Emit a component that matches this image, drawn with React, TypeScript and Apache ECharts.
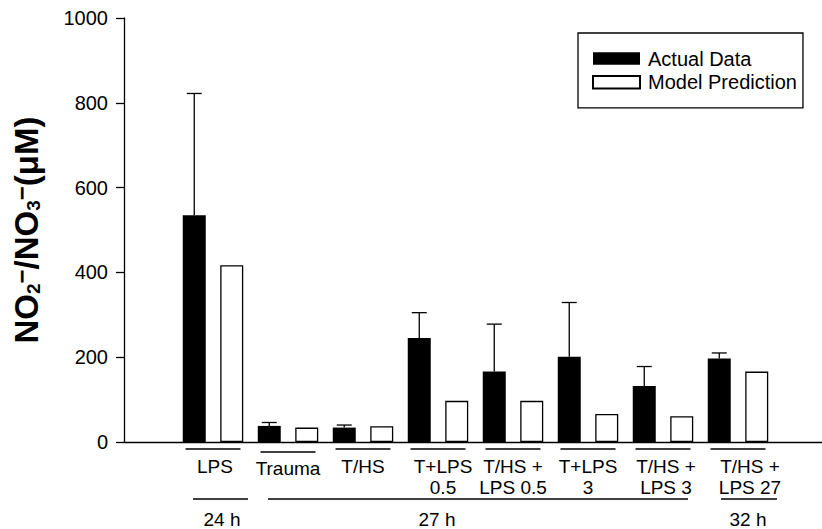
import React, { useEffect, useRef } from "react";
import * as echarts from "echarts";

const categories = [
  "LPS",
  "Trauma",
  "T/HS",
  "T+LPS\n0.5",
  "T/HS +\nLPS 0.5",
  "T+LPS\n3",
  "T/HS +\nLPS 3",
  "T/HS +\nLPS 27",
];
const actualData = [535, 38, 34, 245, 166, 201, 132, 197];
const actualErr = [287, 8, 6, 60, 112, 128, 46, 13];
const modelPrediction = [417, 34, 37, 97, 97, 66, 61, 166];
const yTicks = [0, 200, 400, 600, 800, 1000];

const spanLabels = ["24 h", "27 h", "32 h"];
const spanStart = [0, 1, 7];
const spanEnd = [0, 6, 7];

// layout constants (pixels)
const FONT = "'Liberation Sans', Arial, Helvetica, sans-serif";
const BAR_W = 23;
const BLACK_OFFSET = -18.75;
const CAP_HALF = 7.5;
const UNDERLINE_HALF = 27.5;
const UNDERLINE_DY = [7, 10, 7, 7, 7, 7, 7, 7];
const LABEL_PAD_LEFT = [4, 0, 0, 10, 0, 0, 6, 24];
const LABEL_PAD_TOP = [0, 2, 0, 0, 0, 0, 0, 0];
const SPAN_PAD_L = [-20, -20, -17];
const SPAN_PAD_R = [35, 25, 39];
const SPAN_LABEL_X = [9, -1, 10]; // relative to label category center
const SPAN_LABEL_CAT = [0, 3, 7];

export default function App() {
  const ref = useRef<HTMLDivElement>(null);
  useEffect(() => {
    if (!ref.current) return;
    const chart = echarts.init(ref.current, undefined, { renderer: "svg" });
    const axisColor = "#000";
    const option: any = {
      animation: false,
      backgroundColor: "#fff",
      grid: [
        { left: 124, right: 0, top: 18, bottom: 87, outerBoundsMode: "none" },
        { left: 175.5, right: 46.5, top: 18, bottom: 87, outerBoundsMode: "none" },
      ],
      legend: {
        orient: "vertical",
        left: 578,
        top: 33,
        itemWidth: 47,
        itemHeight: 12.5,
        itemGap: 3.8,
        padding: [15.5, 6, 15.5, 14],
        borderColor: "#000",
        borderWidth: 1.3,
        borderRadius: 0,
        icon: "rect",
        selectedMode: false,
        data: ["Actual Data", "Model Prediction"],
        textStyle: {
          color: "#000",
          fontSize: 20,
          lineHeight: 20,
          fontFamily: FONT,
          padding: [0, 0, 0, 3],
        },
      },
      xAxis: [
        {
          gridIndex: 0,
          type: "value",
          min: 0,
          max: 1,
          axisLine: { show: true, lineStyle: { color: axisColor, width: 1.3 } },
          axisTick: { show: false },
          axisLabel: { show: false },
          splitLine: { show: false },
        },
        {
          gridIndex: 1,
          type: "category",
          data: categories.map((c, i) => ({
            value: c,
            textStyle: { padding: [LABEL_PAD_TOP[i], 0, 0, LABEL_PAD_LEFT[i]] },
          })),
          axisLine: { show: false },
          axisTick: { show: false },
          splitLine: { show: false },
          axisLabel: {
            interval: 0,
            margin: 13.5,
            color: "#000",
            fontSize: 19,
            lineHeight: 21,
            fontFamily: FONT,
          },
        },
      ],
      yAxis: [
        {
          gridIndex: 0,
          type: "value",
          min: yTicks[0],
          max: yTicks[yTicks.length - 1],
          interval: 200,
          axisLine: { show: true, lineStyle: { color: axisColor, width: 1.3 } },
          axisTick: { show: true, inside: false, length: 8, lineStyle: { color: axisColor, width: 1.3 } },
          axisLabel: {
            margin: 16,
            color: "#000",
            fontSize: 20,
            fontFamily: FONT,
            formatter: (v: number) => String(v),
          },
          splitLine: { show: false },
          name: "{m|NO}{sub|2}{sup|−}{m|/NO}{sub|3}{sup|−}{m|(μM)}",
          nameLocation: "middle",
          nameRotate: 90,
          nameGap: 81,
          nameTextStyle: {
            color: "#000",
            fontFamily: FONT,
            rich: {
              m: { fontSize: 33, fontWeight: "bold", lineHeight: 34, fontFamily: FONT, color: "#000" },
              sub: {
                fontSize: 19,
                fontWeight: "bold",
                lineHeight: 23,
                verticalAlign: "bottom",
                fontFamily: FONT,
                color: "#000",
              },
              sup: {
                fontSize: 24,
                fontWeight: "bold",
                lineHeight: 8,
                verticalAlign: "top",
                fontFamily: FONT,
                color: "#000",
              },
            },
          },
        },
        {
          gridIndex: 1,
          type: "value",
          min: yTicks[0],
          max: yTicks[yTicks.length - 1],
          show: false,
          splitLine: { show: false },
        },
      ],
      series: [
        {
          name: "Actual Data",
          type: "bar",
          xAxisIndex: 1,
          yAxisIndex: 1,
          barWidth: BAR_W,
          barGap: "63%",
          data: actualData,
          itemStyle: { color: "#000", borderColor: "#000", borderWidth: 0 },
        },
        {
          name: "Model Prediction",
          type: "bar",
          xAxisIndex: 1,
          yAxisIndex: 1,
          barWidth: BAR_W,
          barGap: "63%",
          data: modelPrediction,
          itemStyle: { color: "#fff", borderColor: "#000", borderWidth: 1.3 },
        },
        {
          name: "err",
          type: "custom",
          xAxisIndex: 1,
          yAxisIndex: 1,
          z: 5,
          data: actualData.map((v, i) => [i, v, v + actualErr[i]]),
          encode: { x: 0, y: [1, 2] },
          renderItem: (params: any, api: any) => {
            const i = api.value(0);
            const lo = api.coord([i, api.value(1)]);
            const hi = api.coord([i, api.value(2)]);
            const x = lo[0] + BLACK_OFFSET;
            return {
              type: "group",
              children: [
                {
                  type: "line",
                  shape: { x1: x, y1: lo[1], x2: x, y2: hi[1] },
                  style: { stroke: "#000", lineWidth: 1.3 },
                },
                {
                  type: "line",
                  shape: { x1: x - CAP_HALF, y1: hi[1], x2: x + CAP_HALF, y2: hi[1] },
                  style: { stroke: "#000", lineWidth: 1.3 },
                },
              ],
            };
          },
        },
        {
          name: "underlines",
          type: "custom",
          xAxisIndex: 1,
          yAxisIndex: 1,
          silent: true,
          data: categories.map((c, i) => [i, 0]),
          encode: { x: 0, y: 1 },
          renderItem: (params: any, api: any) => {
            const i = api.value(0);
            const p = api.coord([i, 0]);
            const y = p[1] + UNDERLINE_DY[i];
            return {
              type: "line",
              shape: { x1: p[0] - UNDERLINE_HALF, y1: y, x2: p[0] + UNDERLINE_HALF, y2: y },
              style: { stroke: "#000", lineWidth: 1.3 },
            };
          },
        },
        {
          name: "spans",
          type: "custom",
          xAxisIndex: 1,
          yAxisIndex: 1,
          silent: true,
          data: spanLabels.map((l, k) => [spanStart[k], 0, spanEnd[k]]),
          encode: { x: 0, y: 1 },
          renderItem: (params: any, api: any) => {
            const k = params.dataIndex;
            const a = api.coord([spanStart[k], 0]);
            const b = api.coord([spanEnd[k], 0]);
            const c = api.coord([SPAN_LABEL_CAT[k], 0]);
            const y = a[1] + 57;
            return {
              type: "group",
              children: [
                {
                  type: "line",
                  shape: { x1: a[0] + SPAN_PAD_L[k], y1: y, x2: b[0] + SPAN_PAD_R[k], y2: y },
                  style: { stroke: "#000", lineWidth: 1.3 },
                },
                {
                  type: "text",
                  style: {
                    text: spanLabels[k],
                    x: c[0] + SPAN_LABEL_X[k],
                    y: y + 20,
                    fill: "#000",
                    font: `19px ${FONT}`,
                    align: "center",
                    verticalAlign: "middle",
                    textAlign: "center",
                    textVerticalAlign: "middle",
                  },
                },
              ],
            };
          },
        },
      ],
    };
    chart.setOption(option);
    return () => chart.dispose();
  }, []);
  return (
    <div
      ref={ref}
      style={{ position: "absolute", left: 0, top: 0, width: 822, height: 529 }}
    />
  );
}
